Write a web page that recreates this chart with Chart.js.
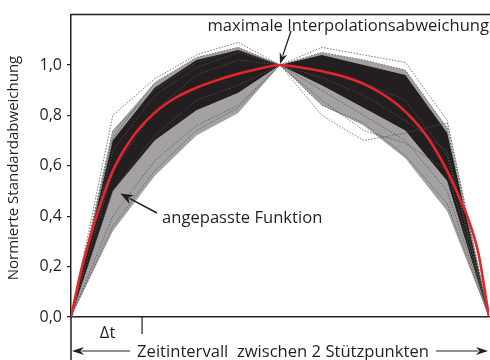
<!DOCTYPE html>
<html>
<head>
<meta charset="utf-8">
<script src="https://cdn.jsdelivr.net/npm/chart.js@4.4.0/dist/chart.umd.min.js"></script>
<style>
  html, body { margin: 0; padding: 0; background: #fff; }
  #wrap { width: 490px; height: 360px; }
</style>
</head>
<body>
<div id="wrap"><canvas id="chart"></canvas></div>
<script>
// positions within one interval between two support points (0 … 1)
const xs = [0, 0.1, 0.2, 0.3, 0.4, 0.5, 0.6, 0.7, 0.8, 0.9, 1.0];

// envelopes of the bundle of normalised deviation curves
const bandOuterLow  = [0, 0.34, 0.56, 0.72, 0.81, 1.0, 0.84, 0.76, 0.63, 0.42, 0];
const bandOuterHigh = [0, 0.74, 0.93, 1.03, 1.07, 1.0, 1.05, 1.02, 0.98, 0.75, 0];
const bandCoreLow   = [0, 0.50, 0.70, 0.82, 0.89, 1.0, 0.92, 0.83, 0.74, 0.54, 0];
const bandCoreHigh  = [0, 0.70, 0.91, 1.02, 1.06, 1.0, 1.04, 1.00, 0.96, 0.73, 0];

// single curves that stray from the bundle
const strayCurves = [
  [0, 0.80, 0.945, 1.04, 1.09, 1.0, 0.98, 0.93, 0.86, 0.64, 0],
  [0, 0.71, 0.93, 1.03, 1.07, 1.0, 1.07, 1.04, 1.01, 0.78, 0],
  [0, 0.66, 0.88, 0.99, 1.05, 1.0, 0.80, 0.70, 0.73, 0.77, 0],
  [0, 0.58, 0.82, 0.96, 1.02, 1.0, 0.86, 0.74, 0.69, 0.58, 0],
  [0, 0.40, 0.62, 0.76, 0.84, 1.0, 0.95, 0.88, 0.78, 0.66, 0],
  [0, 0.74, 0.90, 1.01, 1.06, 1.0, 1.05, 1.02, 0.98, 0.75, 0],
  [0, 0.36, 0.58, 0.74, 0.83, 1.0, 0.84, 0.77, 0.64, 0.45, 0],
  [0, 0.50, 0.72, 0.86, 0.92, 1.0, 0.90, 0.80, 0.70, 0.50, 0]
];

// fitted function
const fitX = [0, 0.025, 0.05, 0.075, 0.1, 0.15, 0.2, 0.25, 0.3, 0.35, 0.4, 0.45, 0.5,
              0.55, 0.6, 0.65, 0.7, 0.75, 0.8, 0.85, 0.9, 0.925, 0.95, 0.975, 1];
const fitY = [0, 0.19, 0.34, 0.47, 0.58, 0.72, 0.81, 0.87, 0.91, 0.94, 0.965, 0.985, 1.0,
              0.99, 0.975, 0.955, 0.925, 0.88, 0.815, 0.72, 0.58, 0.49, 0.39, 0.25, 0];

const yTicks = [0, 0.2, 0.4, 0.6, 0.8, 1.0];
const yTickLabels = ['0,0', '0,2', '0,4', '0,6', '0,8', '1,0'];
const deltaT = 0.17;

const INK = '#231f20';
const FONT = '"Open Sans", sans-serif';

const pts = (ys, xv = xs) => ys.map((v, i) => ({ x: xv[i], y: v }));

const datasets = [
  // 0: fitted curve (on top)
  { data: pts(fitY, fitX), borderColor: '#e4262c', borderWidth: 2.6,
    cubicInterpolationMode: 'monotone', order: 0 },
  // stray curves
  ...strayCurves.map((c) => ({
    data: pts(c), borderColor: '#555', borderWidth: 0.8, borderDash: [1.5, 1.5], order: 1
  }))
];
const coreLowIdx = datasets.length;
datasets.push({ data: pts(bandCoreLow), borderWidth: 0, order: 2 });
datasets.push({ data: pts(bandCoreHigh), borderWidth: 0, order: 2,
  fill: { target: coreLowIdx }, backgroundColor: INK });
const outerLowIdx = datasets.length;
datasets.push({ data: pts(bandOuterLow), borderWidth: 0, order: 3 });
datasets.push({ data: pts(bandOuterHigh), borderWidth: 0, order: 3,
  fill: { target: outerLowIdx }, backgroundColor: 'rgba(35,31,32,0.42)' });

function arrow(ctx, x1, y1, x2, y2, len, half) {
  const ang = Math.atan2(y2 - y1, x2 - x1);
  const c = Math.cos(ang), s = Math.sin(ang);
  ctx.beginPath();
  ctx.moveTo(x1, y1);
  ctx.lineTo(x2 - c * len * 0.8, y2 - s * len * 0.8);
  ctx.stroke();
  ctx.beginPath();
  ctx.moveTo(x2, y2);
  ctx.lineTo(x2 - c * len + s * half, y2 - s * len - c * half);
  ctx.lineTo(x2 - c * len * 0.7, y2 - s * len * 0.7);
  ctx.lineTo(x2 - c * len - s * half, y2 - s * len + c * half);
  ctx.closePath();
  ctx.fill();
}

// frame pieces, axis title and labelled arrows
const annotations = {
  id: 'annotations',
  afterDraw(chart) {
    const { ctx, chartArea: a, scales: { x, y } } = chart;
    ctx.save();
    ctx.strokeStyle = INK;
    ctx.fillStyle = INK;

    ctx.lineWidth = 1.5;
    ctx.beginPath();
    ctx.moveTo(a.left, a.top);
    ctx.lineTo(chart.width, a.top);
    ctx.moveTo(a.left, a.bottom);
    ctx.lineTo(a.left, chart.height);
    ctx.stroke();

    // Δt step
    const xd = x.getPixelForValue(deltaT);
    ctx.lineWidth = 1.2;
    ctx.beginPath();
    ctx.moveTo(xd, a.bottom);
    ctx.lineTo(xd, a.bottom + 17);
    ctx.stroke();
    ctx.font = '16.6px ' + FONT;
    ctx.textAlign = 'center';
    ctx.textBaseline = 'alphabetic';
    ctx.fillText('\u0394t', (a.left + xd) / 2 + 1, a.bottom + 21);

    // interval arrow
    const ya = a.bottom + 34;
    const label = 'Zeitintervall  zwischen 2 St\u00fctzpunkten';
    const cx = (a.left + a.right) / 2 + 3;
    const w = ctx.measureText(label).width;
    ctx.fillText(label, cx, ya + 6);
    ctx.lineWidth = 1.2;
    arrow(ctx, cx - w / 2 - 7, ya, a.left + 1, ya, 12, 4);
    arrow(ctx, cx + w / 2 + 7, ya, a.right - 1, ya, 12, 4);

    // y axis title
    ctx.save();
    ctx.translate(14, 168);
    ctx.rotate(-Math.PI / 2);
    ctx.font = '15px ' + FONT;
    ctx.textBaseline = 'middle';
    ctx.fillText('Normierte Standardabweichung', 0, 0);
    ctx.restore();

    // peak annotation
    const px = x.getPixelForValue(0.5), py = y.getPixelForValue(1.0);
    ctx.font = '16.6px ' + FONT;
    ctx.textAlign = 'right';
    ctx.fillText('maximale Interpolationsabweichung', chart.width - 1, 31);
    ctx.lineWidth = 1.3;
    arrow(ctx, px + 11, 31, px, py - 1, 11, 4);

    // fitted function annotation
    const fx = x.getPixelForValue(0.118), fy = y.getPixelForValue(0.49);
    ctx.textAlign = 'left';
    ctx.fillText('angepasste Funktion', 162, 223);
    ctx.lineWidth = 1.5;
    arrow(ctx, 157, 213, fx, fy, 13, 5);
    ctx.restore();
  }
};

new Chart(document.getElementById('chart'), {
  type: 'line',
  data: { datasets },
  options: {
    responsive: true,
    maintainAspectRatio: false,
    animation: false,
    events: [],
    elements: { point: { radius: 0 }, line: { tension: 0 } },
    layout: { padding: { top: 12, right: 1, left: 0, bottom: 0 } },
    plugins: { legend: { display: false }, tooltip: { enabled: false } },
    scales: {
      x: {
        type: 'linear', min: 0, max: 1,
        ticks: { display: false },
        grid: { display: false },
        border: { display: true, color: INK, width: 1.5 },
        afterFit: (s) => { s.height = 43; }
      },
      y: {
        min: 0, max: 1.2,
        afterBuildTicks: (s) => { s.ticks = yTicks.map((v) => ({ value: v })); },
        ticks: {
          color: INK, padding: 5,
          font: { family: FONT, size: 16 },
          callback: (v) => yTickLabels[yTicks.findIndex((t) => Math.abs(t - v) < 1e-6)]
        },
        grid: { drawOnChartArea: false, drawTicks: true, tickLength: 4, color: INK, lineWidth: 1.2 },
        border: { display: true, color: INK, width: 1.5 },
        afterFit: (s) => { s.width = 71; }
      }
    }
  },
  plugins: [annotations]
});
</script>
</body>
</html>
